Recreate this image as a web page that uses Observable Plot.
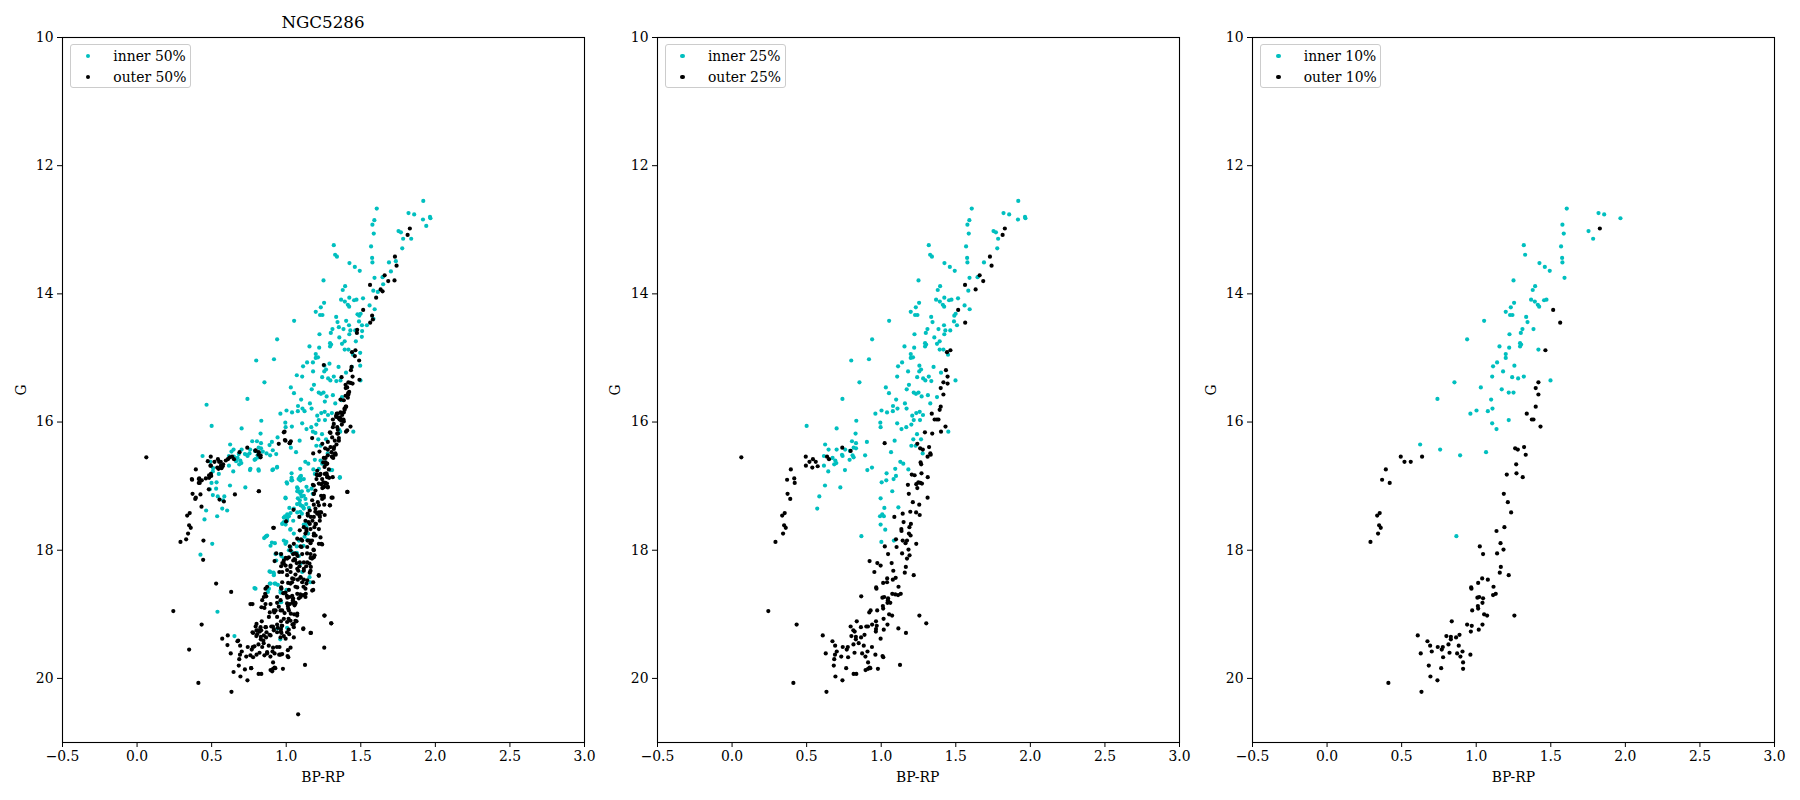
<!DOCTYPE html>
<html>
<head>
<meta charset="utf-8">
<script src="https://cdn.jsdelivr.net/npm/d3@7"></script>
<script src="https://cdn.jsdelivr.net/npm/@observablehq/plot@0.6"></script>
<style>
  body { margin: 0; background: #fff; }
  #root { position: relative; width: 1800px; height: 800px; font-family: 'DejaVu Serif', serif; color: #000; }
  .panel { position: absolute; top: 0; }
  .lab { position: absolute; font-size: 13.9px; white-space: nowrap; }
  .legend { position: absolute; top: 44px; width: 121px; height: 44px; border: 1px solid #cccccc; border-radius: 3px; background: rgba(255,255,255,0.8); box-sizing: border-box; }
  .legend .row { position: absolute; left: 0; font-size: 13.9px; white-space: nowrap; }
  .legend .mk { position: absolute; width: 4.4px; height: 4.4px; border-radius: 50%; }
</style>
</head>
<body>
<div id="root"></div>
<script>
// ---------- data: [BP-RP, G] ----------
const inner10 = [[1.607,12.67],[1.820,12.74],[1.858,12.76],[1.967,12.82],[1.578,12.92],[1.587,13.06],[1.753,13.02],[1.784,13.14],[1.319,13.24],[1.328,13.39],[1.569,13.26],[1.576,13.44],[1.578,13.51],[1.424,13.52],[1.460,13.58],[1.493,13.64],[1.592,13.75],[1.250,13.79],[1.395,13.88],[1.379,13.94],[1.368,14.09],[1.393,14.12],[1.455,14.10],[1.471,14.09],[1.413,14.17],[1.422,14.20],[1.254,14.14],[1.232,14.21],[1.198,14.28],[1.227,14.33],[1.243,14.33],[1.053,14.42],[1.335,14.36],[1.344,14.44],[1.384,14.55],[1.310,14.55],[1.299,14.61],[1.223,14.63],[0.939,14.71],[1.294,14.77],[1.301,14.79],[1.294,14.82],[1.156,14.82],[1.221,14.84],[1.417,14.87],[1.198,14.94],[1.198,15.00],[1.140,15.07],[1.113,15.13],[1.256,15.12],[1.180,15.21],[1.107,15.29],[1.241,15.30],[1.281,15.32],[1.319,15.29],[1.498,15.35],[0.854,15.38],[1.031,15.46],[1.171,15.49],[1.218,15.54],[1.250,15.54],[0.740,15.64],[1.100,15.65],[1.109,15.79],[1.078,15.83],[1.002,15.82],[0.961,15.87],[1.107,16.02],[1.136,16.11],[1.218,15.97],[0.624,16.35],[0.758,16.43],[0.892,16.52],[1.066,16.47],[0.867,17.78]];

const outer10 = [[1.829,12.98],[1.516,14.25],[1.563,14.45],[1.464,14.88],[1.417,15.38],[1.399,15.47],[1.417,15.57],[1.399,15.76],[1.339,15.87],[1.373,15.96],[1.384,15.96],[1.431,16.07],[0.494,16.54],[0.519,16.62],[0.561,16.62],[0.637,16.54],[0.394,16.74],[0.369,16.90],[0.420,16.95],[0.336,17.46],[0.353,17.42],[0.349,17.61],[0.360,17.65],[0.342,17.74],[0.291,17.87],[1.261,16.41],[1.279,16.43],[1.321,16.39],[1.332,16.51],[1.268,16.66],[1.205,16.82],[1.270,16.80],[1.312,16.86],[1.185,17.12],[1.212,17.25],[1.234,17.41],[1.189,17.64],[1.136,17.70],[1.163,17.89],[1.183,17.99],[1.140,18.05],[1.024,17.94],[1.046,18.06],[1.165,18.26],[1.158,18.35],[1.218,18.39],[1.040,18.44],[1.078,18.46],[1.013,18.51],[0.966,18.58],[0.968,18.60],[1.116,18.57],[1.113,18.70],[1.131,18.68],[1.008,18.74],[1.020,18.73],[1.046,18.75],[1.042,18.82],[1.011,18.87],[1.013,18.91],[0.973,18.94],[1.053,19.00],[1.073,19.02],[1.256,19.02],[0.836,19.11],[0.939,19.16],[0.970,19.18],[1.042,19.16],[0.964,19.27],[1.017,19.24],[0.608,19.33],[0.673,19.42],[0.691,19.49],[0.800,19.34],[0.830,19.35],[0.830,19.39],[0.865,19.36],[0.888,19.32],[0.814,19.47],[0.883,19.49],[0.742,19.51],[0.776,19.51],[0.769,19.55],[0.702,19.58],[0.821,19.60],[0.872,19.61],[0.908,19.58],[0.894,19.66],[0.961,19.63],[0.628,19.61],[0.778,19.67],[0.912,19.75],[0.682,19.80],[0.765,19.84],[0.912,19.85],[0.693,19.97],[0.740,20.03],[0.411,20.07],[0.633,20.21]];

// stars in the inner/outer 25% but not in the 10% groups
const inner25extra = [[1.919,12.55],[1.917,12.84],[1.964,12.80],[1.591,12.85],[1.769,13.04],[1.778,13.29],[1.340,13.42],[1.689,13.51],[1.646,13.74],[1.584,13.95],[1.423,14.06],[1.515,14.07],[1.559,14.18],[1.593,14.24],[1.490,14.34],[1.499,14.31],[1.508,14.49],[1.488,14.43],[1.421,14.49],[1.430,14.57],[1.463,14.57],[1.423,14.63],[1.356,14.68],[1.374,14.78],[1.392,14.74],[1.392,14.87],[1.448,14.95],[1.213,14.99],[0.799,15.04],[0.918,15.02],[1.351,15.14],[1.267,15.18],[1.255,15.21],[1.296,15.35],[1.336,15.36],[1.401,15.23],[1.186,15.42],[1.233,15.56],[1.271,15.60],[1.313,15.58],[1.374,15.61],[1.329,15.71],[1.052,15.55],[1.159,15.71],[1.170,15.79],[1.079,15.75],[1.039,15.85],[1.208,15.90],[1.235,15.86],[1.258,15.84],[1.280,15.89],[1.260,15.97],[0.994,16.01],[0.996,16.08],[0.833,15.98],[0.701,16.10],[0.500,16.06],[1.168,16.08],[1.202,16.04],[0.828,16.18],[0.647,16.43],[0.701,16.43],[0.737,16.51],[0.741,16.53],[0.804,16.30],[0.831,16.33],[0.815,16.40],[0.831,16.41],[0.790,16.45],[0.808,16.52],[0.815,16.55],[0.788,16.59],[0.616,16.53],[0.674,16.56],[0.692,16.60],[0.685,16.66],[0.699,16.64],[0.616,16.68],[0.645,16.77],[0.757,16.75],[0.726,17.02],[0.623,16.99],[0.585,17.16],[0.571,17.35],[0.904,16.31],[0.907,16.75],[0.938,16.71],[1.090,16.29],[1.215,16.27],[1.240,16.19],[1.267,16.27],[1.202,16.37],[1.231,16.37],[1.278,16.49],[1.128,16.62],[1.148,16.65],[1.182,16.74],[1.094,16.73],[1.036,16.80],[1.034,16.91],[1.003,16.94],[1.083,16.89],[1.099,16.84],[1.074,17.08],[0.996,17.19],[1.021,17.34],[1.115,17.33],[0.992,17.47],[1.007,17.44],[1.018,17.47],[0.996,17.60],[1.027,17.68],[1.001,17.87],[1.085,17.85],[1.450,16.15]];

const outer25extra = [[1.814,13.08],[1.729,13.42],[1.740,13.56],[1.660,13.71],[1.684,13.80],[1.562,13.86],[1.633,13.93],[1.441,14.91],[1.434,15.19],[1.445,15.29],[1.445,15.40],[1.392,15.81],[1.358,15.96],[0.062,16.55],[1.023,16.33],[0.739,16.40],[0.795,16.45],[0.650,16.58],[0.542,16.58],[0.574,16.69],[0.538,16.71],[0.495,16.68],[0.417,16.88],[0.372,17.12],[0.390,17.20],[1.293,16.16],[1.342,16.18],[1.401,16.15],[1.242,16.34],[1.329,16.49],[1.311,16.54],[1.264,16.63],[1.224,16.83],[1.249,16.94],[1.235,16.97],[1.262,16.95],[1.273,16.96],[1.242,17.03],[1.179,16.98],[1.311,17.18],[1.255,17.29],[1.144,17.43],[1.195,17.40],[1.258,17.45],[1.088,17.48],[1.150,17.56],[1.199,17.59],[1.135,17.67],[1.186,17.74],[1.197,17.77],[1.099,17.83],[1.103,17.95],[1.144,17.85],[1.173,17.85],[1.235,17.90],[1.190,18.08],[1.173,18.13],[1.070,18.20],[0.922,18.17],[0.974,18.20],[0.996,18.24],[0.954,18.34],[1.081,18.32],[1.097,18.43],[1.039,18.50],[0.866,18.72],[1.074,18.68],[1.094,18.69],[1.045,18.78],[1.061,18.82],[0.929,18.94],[0.920,18.97],[1.302,19.14],[1.016,19.07],[0.965,19.11],[0.795,19.19],[0.864,19.20],[0.900,19.19],[0.911,19.19],[1.115,19.22],[1.166,19.29],[0.996,19.38],[0.965,19.23],[0.822,19.27],[0.813,19.25],[0.849,19.45],[0.938,19.51],[0.690,19.63],[1.009,19.65],[1.014,19.67],[0.685,19.70],[0.732,19.66],[0.922,19.83],[0.895,19.87],[0.927,19.84],[0.978,19.85],[1.126,19.79],[0.815,19.93],[0.833,19.93],[0.243,18.95],[0.433,19.16]];

// stars in the inner/outer 50% but not in the 25% groups
const inner50extra = [[1.939,12.94],[1.838,13.14],[1.735,13.49],[1.702,13.65],[1.650,13.85],[1.614,13.97],[1.478,14.32],[1.402,14.42],[1.541,14.49],[1.585,14.39],[1.353,14.52],[1.507,14.67],[1.509,14.58],[1.467,14.74],[1.496,14.92],[1.290,15.09],[1.440,15.14],[1.496,15.12],[1.071,15.27],[1.364,15.35],[1.259,15.68],[1.371,15.66],[0.466,15.73],[1.306,15.86],[1.179,16.15],[1.196,16.17],[1.038,16.07],[1.355,16.12],[1.362,16.15],[1.031,16.40],[0.942,16.24],[0.772,16.30],[0.888,16.36],[0.868,16.49],[0.933,16.50],[0.910,16.44],[0.843,16.46],[0.794,16.58],[0.754,16.49],[0.723,16.50],[0.682,16.50],[0.633,16.46],[0.649,16.54],[0.664,16.61],[0.439,16.53],[0.492,16.62],[0.510,16.72],[0.760,16.73],[0.814,16.74],[0.912,16.74],[0.939,16.70],[1.192,16.59],[1.261,16.63],[1.308,16.75],[1.360,16.86],[1.036,16.87],[1.094,16.88],[1.179,15.07],[1.123,15.83],[0.508,16.77],[0.548,16.81],[0.816,16.76],[1.192,16.81],[1.118,16.89],[1.094,16.91],[0.499,16.95],[0.533,16.94],[0.530,17.04],[0.488,17.05],[0.541,17.16],[0.508,17.14],[0.577,17.22],[0.463,17.38],[0.604,17.38],[0.537,17.47],[0.452,17.52],[0.504,17.90],[0.425,18.07],[1.073,17.02],[1.087,17.09],[1.105,17.08],[1.103,17.16],[1.136,17.01],[1.147,17.07],[1.170,17.04],[1.178,17.12],[1.078,17.19],[1.073,17.28],[1.089,17.27],[1.109,17.31],[1.134,17.28],[1.094,17.40],[1.105,17.43],[1.152,17.34],[1.006,17.51],[0.984,17.56],[0.977,17.58],[0.904,17.88],[0.924,17.89],[0.895,17.93],[1.071,17.94],[1.118,17.60],[1.134,17.58],[1.136,17.64],[1.147,17.74],[1.123,17.79],[1.141,17.84],[1.116,17.93],[1.071,18.04],[1.359,16.87],[0.852,17.81],[0.928,18.06],[0.984,18.13],[1.038,18.03],[0.968,18.09],[0.933,18.16],[1.096,18.21],[1.085,18.09],[0.888,18.33],[0.915,18.35],[0.917,18.39],[1.107,18.34],[1.156,18.42],[0.890,18.52],[0.922,18.52],[0.944,18.54],[0.787,18.59],[0.877,18.65],[0.962,18.66],[1.002,18.62],[0.966,18.81],[0.539,18.96],[0.942,19.22],[1.006,19.21],[0.653,19.34],[0.960,19.39],
  [1.091,16.86],[1.096,16.91],[1.040,16.91],[1.006,16.96],[1.078,17.04],[1.096,17.12],[1.118,17.15],[1.129,17.20],[1.091,17.22],[0.995,17.18],[1.051,17.35],[1.096,17.30],[1.118,17.35],[1.074,17.41],[1.029,17.42],[0.984,17.49],[1.006,17.54],[1.047,17.54],[0.973,17.59],[1.029,17.67],[0.861,17.79],[0.872,17.77],[1.051,17.74],[0.984,17.85],[0.995,17.90],[1.018,18.00],[1.029,17.95],[0.962,18.06],[0.895,18.34],[0.917,18.37],[0.928,18.52],[0.895,18.52],[0.962,18.63],[0.984,18.67],[0.884,18.60],[0.794,18.60],[0.962,18.81],[1.163,18.50],[1.230,16.60],[1.241,16.65],[1.219,16.73],[1.297,16.75]];

const outer50extra = [[1.726,13.79],[1.646,13.96],[1.603,14.06],[1.576,14.34],[1.581,14.40],[1.476,14.56],[1.474,14.61],[1.252,15.11],[1.489,15.04],[1.460,14.97],[1.438,15.14],[1.371,15.30],[1.491,15.34],[1.398,15.42],[1.415,15.55],[1.364,15.65],[1.386,15.85],[1.335,15.90],[1.353,15.94],[1.313,15.96],[1.386,15.99],[1.373,16.04],[1.346,16.12],[1.326,16.29],[1.353,16.25],[1.174,16.25],[1.031,16.30],[0.991,16.28],[0.950,16.34],[0.989,16.15],[1.306,16.54],[1.223,16.46],[1.252,16.56],[1.181,16.49],[1.286,16.74],[1.275,16.84],[0.622,16.55],[0.609,16.58],[0.595,16.60],[0.577,16.66],[0.562,16.68],[0.550,16.62],[0.492,16.68],[0.546,16.73],[0.566,16.72],[0.687,16.47],[0.814,16.51],[0.828,16.55],[0.816,16.47],[0.367,16.89],[0.414,16.89],[0.483,16.83],[0.461,16.88],[0.495,16.81],[0.474,16.61],[0.434,16.91],[0.483,16.87],[0.497,16.84],[0.414,16.95],[0.425,17.13],[0.394,17.18],[0.481,17.05],[0.553,17.21],[0.582,17.24],[0.656,17.13],[0.817,17.08],[0.432,17.32],[0.329,17.83],[0.445,17.85],[0.443,18.15],[1.259,16.81],[1.288,16.87],[1.255,17.01],[1.279,17.01],[1.411,17.09],[1.208,16.83],[1.185,17.12],[1.252,17.15],[1.241,17.20],[1.293,17.30],[1.217,17.41],[1.223,17.46],[1.165,17.48],[1.176,17.54],[1.225,17.54],[1.049,17.37],[0.999,17.55],[0.917,17.65],[0.933,18.05],[0.966,18.06],[0.997,18.12],[1.076,18.09],[1.060,18.15],[0.984,18.16],[0.530,18.52],[0.631,18.65],[1.058,18.05],[1.163,18.12],[1.118,18.19],[1.055,18.14],[1.006,18.13],[1.029,18.24],[1.089,18.25],[1.118,18.29],[1.134,18.25],[1.156,18.21],[0.966,18.25],[1.006,18.31],[1.029,18.34],[1.062,18.38],[1.118,18.46],[1.107,18.50],[1.136,18.52],[1.181,18.50],[1.181,18.62],[1.062,18.57],[1.018,18.62],[0.980,18.67],[1.004,18.71],[1.085,18.75],[1.024,18.84],[1.056,18.86],[0.872,18.57],[0.859,18.68],[0.839,18.78],[0.861,18.84],[0.834,18.89],[0.854,18.90],[0.890,18.97],[0.939,18.82],[0.950,18.88],[0.989,18.98],[1.031,18.99],[1.062,19.10],[1.006,19.12],[0.944,19.21],[1.051,19.15],[1.069,19.11],[0.801,19.25],[0.778,19.29],[0.832,19.25],[0.868,19.28],[0.917,19.25],[0.984,19.34],[0.760,18.84],[0.774,18.84],[0.349,19.55],[1.080,20.56],[1.255,19.52],[0.571,19.38],[0.606,19.48],[0.678,19.41],[0.647,19.90],[0.723,19.86],[0.765,19.84],[0.787,19.50],[0.760,19.64],[0.801,19.63],[0.839,19.51],[0.912,19.52],[0.955,19.51],[0.973,19.62],[0.953,19.63],[0.922,19.61],[0.872,19.59],[0.854,19.64],[0.906,19.89],[1.029,19.52],[1.020,19.31],[0.939,19.28],[0.968,19.29],[0.774,19.28],[0.846,19.41],[1.011,19.56],
  [1.431,15.39],[1.409,15.46],[1.422,15.53],[1.398,15.59],[1.413,15.62],[1.386,15.66],[1.402,15.76],[1.391,15.79],[1.364,15.85],[1.346,15.87],[1.375,15.89],[1.360,15.93],[1.335,15.92],[1.369,15.98],[1.319,16.03],[1.313,16.08],[1.342,16.08],[1.409,16.13],[1.348,16.18],[1.297,16.17],[1.308,16.24],[1.353,16.29],[1.337,16.35],[1.279,16.31],[1.297,16.39],[1.319,16.42],[1.304,16.47],[1.324,16.50],[1.279,16.52],[1.264,16.56],[1.315,16.56],[1.248,16.63],[1.275,16.65],[1.257,16.70],[1.208,16.76],[1.230,16.81],[1.203,16.89],[1.241,16.89],[1.275,16.86],[1.219,16.96],[1.264,16.96],[1.248,17.02],[1.279,17.02],[1.185,16.99],[1.196,17.07],[1.234,17.15],[1.252,17.18],[1.304,17.18],[1.174,17.22],[1.185,17.29],[1.219,17.30],[1.293,17.30],[1.158,17.38],[1.196,17.35],[1.208,17.43],[1.230,17.41],[1.145,17.46],[1.185,17.48],[1.226,17.48],[1.129,17.54],[1.158,17.59],[1.196,17.59],[1.118,17.64],[1.163,17.67],[1.219,17.67],[1.091,17.69],[1.129,17.74],[1.185,17.77],[1.230,17.80],[1.074,17.82],[1.107,17.85],[1.158,17.85],[1.051,17.90],[1.096,17.94],[1.141,17.95],[1.185,18.00],[1.029,18.00],[1.069,18.06],[1.107,18.06],[1.163,18.06],[1.018,18.11],[1.047,18.16],[1.091,18.19],[1.141,18.19],[0.984,18.21],[1.029,18.26],[1.074,18.29],[1.118,18.32],[1.163,18.32],[0.973,18.34],[1.006,18.39],[1.051,18.45],[1.096,18.42],[1.141,18.47],[1.219,18.40],[0.973,18.50],[1.029,18.52],[1.074,18.58],[1.129,18.60],[1.174,18.63],[0.995,18.66],[1.040,18.71],[1.096,18.73],[1.129,18.73],[0.939,18.73],[0.861,18.60],[0.850,18.73],[0.895,18.84],[0.962,18.78],[1.006,18.83],[1.062,18.83],[0.917,18.94],[0.962,18.94],[1.018,18.94],[1.074,18.99],[0.884,19.04],[0.939,19.04],[0.984,19.07],[1.029,19.10],[0.801,19.15],[0.828,19.20],[0.861,19.20],[0.917,19.23],[0.973,19.18],[1.051,19.20],[0.805,19.31],[0.850,19.33],[0.895,19.33],[1.006,19.28],[0.962,19.36],[1.051,19.36],[1.114,19.23],[1.163,19.29],[1.257,19.02],[1.302,19.14],[1.409,17.09],[0.984,16.16],[1.024,16.33],[0.995,16.29],[0.816,17.08],[0.913,17.65],[0.794,16.44],[0.828,16.52],[1.219,17.90],[1.241,17.91],[1.185,18.11]];

const xTicks = [-0.5, 0.0, 0.5, 1.0, 1.5, 2.0, 2.5, 3.0];
const yTicks = [10, 12, 14, 16, 18, 20];
const title = "NGC5286";
const xLabel = "BP-RP";
const yLabel = "G";
const panels = [
  {pct: "50%", inner: [inner10, inner25extra, inner50extra], outer: [outer10, outer25extra, outer50extra], title: title},
  {pct: "25%", inner: [inner10, inner25extra], outer: [outer10, outer25extra]},
  {pct: "10%", inner: [inner10], outer: [outer10]}
];
const innerColor = "#00bfbf";
const outerColor = "#000000";

// ---------- layout ----------
const frameLefts = [62, 656.6, 1252.4];
const frameW = 522, frameTop = 37, frameBottom = 742;
const ML = 56, MR = 14;
const root = document.getElementById("root");
const rows = arrs => arrs.flat().map(([bp, g]) => ({bp, g}));
const fmt = d => (d < 0 ? "\u2212" : "") + Math.abs(d).toFixed(1);

panels.forEach((p, i) => {
  const fl = frameLefts[i];
  const chart = Plot.plot({
    width: ML + frameW + MR,
    height: 800,
    marginLeft: ML, marginRight: MR, marginTop: frameTop, marginBottom: 800 - frameBottom,
    x: {domain: [-0.5, 3.0]},
    y: {domain: [10, 21], reverse: true},
    style: {fontFamily: "'DejaVu Serif', serif", fontSize: "13.9px", color: "#000", background: "transparent", overflow: "visible"},
    marks: [
      Plot.dot(rows(p.inner), {x: "bp", y: "g", r: 2.1, fill: innerColor}),
      Plot.dot(rows(p.outer), {x: "bp", y: "g", r: 2.1, fill: outerColor}),
      Plot.frame({stroke: "#000", strokeWidth: 1.1}),
      Plot.axisX({ticks: xTicks, tickFormat: fmt, tickSize: 5, tickPadding: 4, label: null, fontSize: 13.9}),
      Plot.axisY({ticks: yTicks, tickFormat: d => String(d), tickSize: 5, tickPadding: 4, label: null, fontSize: 13.9})
    ]
  });
  const wrap = document.createElement("div");
  wrap.className = "panel";
  wrap.style.left = (fl - ML) + "px";
  wrap.appendChild(chart);
  root.appendChild(wrap);

  // x label
  const xl = document.createElement("div");
  xl.className = "lab";
  xl.textContent = xLabel;
  xl.style.left = (fl + frameW / 2) + "px";
  xl.style.top = "777px";
  xl.style.transform = "translate(-50%, -50%)";
  root.appendChild(xl);
  // y label
  const yl = document.createElement("div");
  yl.className = "lab";
  yl.textContent = yLabel;
  yl.style.left = (fl - 41.5) + "px";
  yl.style.top = ((frameTop + frameBottom) / 2) + "px";
  yl.style.transform = "translate(-50%, -50%) rotate(-90deg)";
  root.appendChild(yl);
  // title
  if (p.title) {
    const t = document.createElement("div");
    t.className = "lab";
    t.textContent = p.title;
    t.style.fontSize = "16.7px";
    t.style.left = (fl + frameW / 2) + "px";
    t.style.top = "22px";
    t.style.transform = "translate(-50%, -50%)";
    root.appendChild(t);
  }
  // legend
  const lg = document.createElement("div");
  lg.className = "legend";
  lg.style.left = (fl + 8) + "px";
  [["inner " + p.pct, innerColor, 11.7], ["outer " + p.pct, outerColor, 32.7]].forEach(([txt, col, cy]) => {
    const mk = document.createElement("div");
    mk.className = "mk";
    mk.style.background = col;
    mk.style.left = (18 - 2.2 - 1) + "px";
    mk.style.top = (cy - 2.2 - 1) + "px";
    lg.appendChild(mk);
    const r = document.createElement("div");
    r.className = "row";
    r.textContent = txt;
    r.style.left = (43.3 - 1) + "px";
    r.style.top = (cy - 9 - 1) + "px";
    r.style.lineHeight = "18px";
    lg.appendChild(r);
  });
  root.appendChild(lg);
});
</script>
</body>
</html>
